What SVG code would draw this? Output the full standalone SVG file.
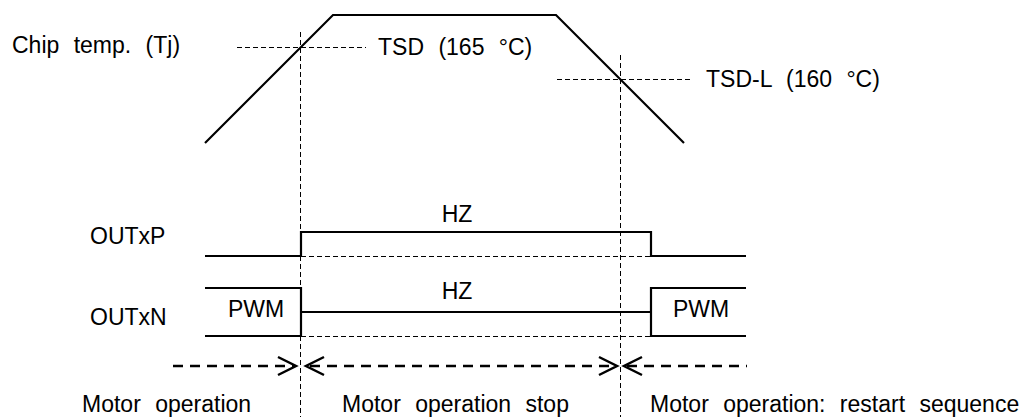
<svg xmlns="http://www.w3.org/2000/svg" width="1029" height="417" viewBox="0 0 1029 417">
<style>
text{font-family:"Liberation Sans",Arial,sans-serif;font-size:23px;fill:#000;word-spacing:8px}
.thick{fill:none;stroke:#000;stroke-width:2.2;stroke-linejoin:miter}
.thin{fill:none;stroke:#000;stroke-width:1;stroke-dasharray:5,3}
.vdash{fill:none;stroke:#000;stroke-width:1;stroke-dasharray:5,3}
.arr{fill:none;stroke:#000;stroke-width:2.5;stroke-dasharray:10,7}
.head{fill:none;stroke:#000;stroke-width:2.5}
</style>
<rect width="1029" height="417" fill="#fff"/>
<g id="guides">
<line class="vdash" x1="300.5" y1="32" x2="300.5" y2="417"/>
<line class="vdash" x1="620.5" y1="55" x2="620.5" y2="417"/>
<line class="thin" x1="237" y1="47.5" x2="366" y2="47.5"/>
<line class="thin" x1="557" y1="79.5" x2="690" y2="79.5"/>
<line class="thin" x1="301" y1="256.5" x2="651" y2="256.5"/>
<line class="thin" x1="301" y1="336.5" x2="651" y2="336.5"/>
</g>
<g id="tj">
<polyline class="thick" points="205,143 333,15 556,15 684,143"/>
<text x="12" y="53">Chip temp. (Tj)</text>
<text x="378" y="55">TSD (165 °C)</text>
<text x="706" y="87">TSD-L (160 °C)</text>
</g>
<g id="outxp">
<text x="90" y="244">OUTxP</text>
<polyline class="thick" points="205,256 301,256 301,232 651,232 651,256 746,256"/>
<text x="457" y="222" text-anchor="middle">HZ</text>
</g>
<g id="outxn">
<text x="90" y="325">OUTxN</text>
<polyline class="thick" points="205,288 301,288 301,336 205,336"/>
<line class="thick" x1="301" y1="312" x2="651" y2="312"/>
<polyline class="thick" points="746,288 651,288 651,336 746,336"/>
<text x="457" y="299" text-anchor="middle">HZ</text>
<text x="228" y="317">PWM</text>
<text x="673" y="317">PWM</text>
</g>
<g id="connectors">
<line class="arr" x1="173" y1="366" x2="294" y2="366"/>
<polyline class="head" points="278,357 296,366 278,375"/>
<polyline class="head" points="324,357 306,366 324,375"/>
<line class="arr" x1="310" y1="366" x2="614" y2="366"/>
<polyline class="head" points="599,357 617,366 599,375"/>
<polyline class="head" points="642,357 624,366 642,375"/>
<line class="arr" x1="627" y1="366" x2="747" y2="366"/>
</g>
<g id="phases">
<text x="82" y="412">Motor operation</text>
<text x="342" y="412">Motor operation stop</text>
<text x="650" y="412">Motor operation: restart sequence</text>
</g>
</svg>
